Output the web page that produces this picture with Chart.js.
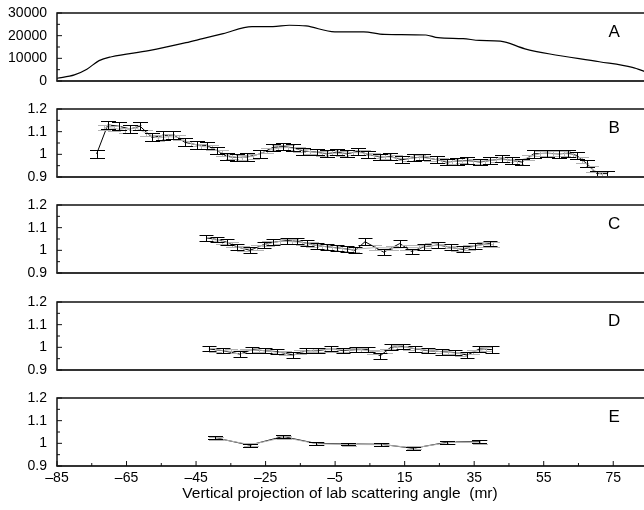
<!DOCTYPE html>
<html><head><meta charset="utf-8">
<script src="https://cdn.jsdelivr.net/npm/chart.js@4.4.0/dist/chart.umd.min.js"></script>
<style>
html,body{margin:0;padding:0;background:#fff;overflow:hidden;width:644px;height:510px;}
#wrap{position:relative;width:644px;height:510px;overflow:hidden;background:#fff;}
canvas{position:absolute;left:0;}
</style></head><body><div id="wrap">
<canvas id="cA"></canvas><canvas id="cB"></canvas><canvas id="cC"></canvas><canvas id="cD"></canvas><canvas id="cE"></canvas>
</div>
<script>
// ---------- data ----------
const xTickVals = [-85,-65,-45,-25,-5,15,35,55,75];
const xTickLabels = ['\u201385','\u201365','\u201345','\u201325','\u20135','15','35','55','75'];
const xMinorVals = [-75,-55,-35,-15,5,25,45,65];
const xTitle = 'Vertical projection of lab scattering angle  (mr)';

const aTickVals = [0,10000,20000,30000];
const aTickLabels = ['0','10000','20000','30000'];
const aMinorVals = [5000,15000,25000];
const rTickVals = [0.9,1.0,1.1,1.2];
const rTickLabels = ['0.9','1','1.1','1.2'];
const rMinorVals = [0.95,1.05,1.15];

const panelLetters = ['A','B','C','D','E'];

// Panel A: counts
const aX = [-85,-80,-76.4,-72.9,-69.3,-58.6,-47.9,-43.1,-37.2,-28.9,-22.9,-18.2,-13.4,-5.1,3.2,9.1,21.1,24.6,31.8,36.5,42.5,49.6,56.8,71.0,80.5,84.5];
const aY = [1200,2700,5200,9000,10700,13400,16900,18700,20900,24000,24000,24600,24300,21700,21700,20600,20300,19100,18700,17900,17600,14200,11900,8500,6000,4000];

// Panel B
const bKX = [-73.6,-70.4,-67.2,-64.0,-61.1,-57.7,-54.4,-51.5,-48.2,-44.8,-41.9,-39.0,-36.2,-33.3,-30.4,-26.6,-22.8,-19.9,-17.0,-14.1,-10.3,-7.4,-4.5,-1.6,1.7,4.6,8.0,10.8,14.2,17.6,20.4,24.3,27.1,30.0,32.9,36.7,39.6,43.0,45.8,48.7,52.1,55.9,59.3,62.1,64.5,67.4,70.3,73.2];
const bKY = [1.002,1.130,1.124,1.112,1.124,1.075,1.083,1.086,1.053,1.042,1.039,1.017,0.991,0.986,0.988,1.002,1.031,1.034,1.029,1.014,1.010,1.002,1.010,1.002,1.014,0.999,0.988,0.991,0.976,0.985,0.988,0.976,0.966,0.970,0.973,0.966,0.973,0.980,0.973,0.966,1.002,1.005,1.002,1.005,0.995,0.959,0.915,0.915];
const bKErr = [0.019,0.019,0.018,0.018,0.018,0.018,0.018,0.018,0.017,0.017,0.017,0.017,0.016,0.016,0.016,0.016,0.016,0.016,0.016,0.015,0.015,0.015,0.015,0.015,0.015,0.015,0.015,0.015,0.015,0.015,0.015,0.015,0.015,0.015,0.015,0.015,0.015,0.015,0.015,0.015,0.016,0.016,0.016,0.016,0.017,0.017,0.013,0.013];
const bGX = [-71.5,-68.5,-65.5,-62.5,-59.5,-56.0,-53.0,-50.0,-46.5,-43.5,-40.5,-37.5,-34.8,-31.8,-28.5,-24.7,-21.3,-18.5,-15.5,-12.2,-8.8,-6.0,-3.0,0.0,3.2,6.3,9.4,12.5,15.9,19.0,22.3,25.7,28.5,31.5,34.8,38.2,41.3,44.4,47.2,50.4,54.0,57.6,60.7,63.3,66.0,68.8,71.8];
const bGY = [1.118,1.115,1.105,1.118,1.095,1.072,1.078,1.075,1.048,1.035,1.030,1.005,0.990,0.985,0.992,1.015,1.028,1.030,1.022,1.012,1.005,1.006,1.004,1.008,1.006,0.994,0.990,0.984,0.980,0.986,0.982,0.972,0.968,0.971,0.970,0.970,0.976,0.976,0.970,0.985,1.004,1.003,1.004,1.000,0.975,0.935,0.910];
const bGErr = [0.012,0.012,0.012,0.012,0.012,0.012,0.012,0.012,0.012,0.012,0.012,0.012,0.011,0.011,0.011,0.011,0.011,0.011,0.011,0.011,0.011,0.011,0.011,0.011,0.011,0.011,0.011,0.011,0.011,0.011,0.011,0.011,0.011,0.011,0.011,0.011,0.011,0.011,0.011,0.011,0.011,0.011,0.011,0.011,0.012,0.012,0.012];

// Panel C
const cKX = [-42.1,-39.0,-36.2,-33.3,-29.5,-25.6,-22.8,-18.9,-16.0,-13.1,-10.3,-7.4,-4.5,-1.6,0.8,3.6,9.0,13.6,17.0,20.5,24.6,28.2,31.8,35.3,39.5];
const cKY = [1.055,1.048,1.036,1.016,1.000,1.025,1.036,1.043,1.040,1.031,1.021,1.016,1.011,1.006,1.000,1.038,0.992,1.030,0.995,1.015,1.024,1.013,1.004,1.021,1.030];
const cKErr = [0.013,0.013,0.013,0.013,0.013,0.013,0.013,0.013,0.013,0.013,0.013,0.013,0.013,0.013,0.013,0.016,0.014,0.015,0.013,0.013,0.013,0.013,0.013,0.013,0.013];
const cGX = [-40.5,-37.5,-34.8,-31.5,-27.5,-24.2,-20.8,-17.5,-14.5,-11.7,-8.8,-6.0,-3.0,0.0,6.5,11.5,15.5,19.0,22.5,26.5,30.0,33.5,37.5,40.5];
const cGY = [1.050,1.040,1.025,1.008,1.012,1.030,1.040,1.038,1.035,1.025,1.018,1.013,1.008,1.004,1.012,1.010,1.012,1.012,1.022,1.020,1.008,1.012,1.025,1.025];
const cGErr = [0.010,0.010,0.010,0.010,0.010,0.010,0.010,0.010,0.010,0.010,0.010,0.010,0.010,0.010,0.010,0.010,0.010,0.010,0.010,0.010,0.010,0.010,0.010,0.010];

// Panel D
const dKX = [-41.3,-37.2,-32.4,-28.9,-25.3,-21.7,-17.0,-13.4,-9.8,-6.3,-2.7,0.9,4.4,8.0,11.0,14.5,18.1,21.7,25.8,29.4,33.0,36.5,40.1];
const dKY = [0.993,0.985,0.970,0.990,0.985,0.981,0.966,0.985,0.985,0.995,0.985,0.990,0.990,0.963,1.000,1.004,0.993,0.985,0.981,0.977,0.966,0.993,0.990];
const dKErr = [0.011,0.011,0.013,0.013,0.012,0.012,0.013,0.012,0.012,0.012,0.012,0.012,0.012,0.014,0.013,0.012,0.012,0.012,0.013,0.013,0.013,0.013,0.014];
const dGX = [-39.5,-35.0,-30.5,-27.0,-23.5,-19.5,-15.0,-11.5,-8.0,-4.5,-1.0,2.5,6.0,9.5,12.8,16.3,20.0,23.8,27.5,31.2,34.8,38.3];
const dGY = [0.990,0.982,0.985,0.988,0.982,0.975,0.978,0.987,0.990,0.990,0.988,0.990,0.980,0.985,1.003,0.998,0.990,0.983,0.978,0.972,0.980,0.992];
const dGErr = [0.009,0.009,0.009,0.009,0.009,0.009,0.009,0.009,0.009,0.009,0.009,0.009,0.009,0.009,0.009,0.009,0.009,0.009,0.009,0.009,0.009,0.009];

// Panel E
const eKX = [-39.6,-29.6,-20.0,-10.6,-1.2,8.2,17.5,27.3,36.5];
const eKY = [1.025,0.992,1.030,1.000,0.997,0.996,0.978,1.005,1.008];
const eKErr = [0.007,0.006,0.006,0.006,0.006,0.006,0.006,0.006,0.006];
const eGX = [-39.2,-29.3,-19.7,-10.3,-0.9,8.5,17.8,27.6,36.8];
const eGY = [1.022,0.994,1.026,0.998,0.995,0.994,0.980,1.003,1.006];
const eGErr = [0.008,0.007,0.007,0.007,0.007,0.007,0.007,0.007,0.007];

// ---------- layout ----------
const FONT = "'Liberation Sans', Arial, Helvetica, sans-serif";
const panelTops = [12.5,108.5,205,301.5,398];
const PANEL_H = 68;
const PAD_TOP = 10;
const CANVAS_W = 660;

function pts(xs, ys){ return xs.map((x,i)=>({x:x, y:ys[i]})); }

const panelPlugin = {
  id:'panel',
  afterDatasetsDraw(chart){
    const ctx = chart.ctx, xs = chart.scales.x, ys = chart.scales.y;
    chart.data.datasets.forEach(ds=>{
      if(!ds.err) return;
      ctx.save();
      ctx.strokeStyle = ds.borderColor;
      ctx.lineWidth = 1;
      const hw = ds.capWidth/2;
      ds.data.forEach((p,i)=>{
        const px = Math.round(xs.getPixelForValue(p.x)) + 0.5;
        const yt = Math.round(ys.getPixelForValue(p.y + ds.err[i])) + 0.5;
        const yb = Math.round(ys.getPixelForValue(p.y - ds.err[i])) + 0.5;
        ctx.beginPath();
        ctx.moveTo(px, yt); ctx.lineTo(px, yb);
        ctx.moveTo(px-hw, yt); ctx.lineTo(px+hw, yt);
        ctx.moveTo(px-hw, yb); ctx.lineTo(px+hw, yb);
        ctx.stroke();
      });
      ctx.restore();
    });
  },
  afterDraw(chart, args, opts){
    const ctx = chart.ctx, a = chart.chartArea, xs = chart.scales.x, ys = chart.scales.y;
    ctx.save();
    // frame
    ctx.strokeStyle = '#111'; ctx.lineWidth = 1.5;
    ctx.beginPath();
    ctx.moveTo(a.left, a.bottom); ctx.lineTo(a.left, a.top); ctx.lineTo(a.right+20, a.top);
    ctx.stroke();
    ctx.strokeStyle = '#333'; ctx.lineWidth = 2;
    ctx.beginPath(); ctx.moveTo(a.left-0.75, a.bottom); ctx.lineTo(a.right+20, a.bottom); ctx.stroke();
    // y ticks (inside)
    ctx.strokeStyle = '#111'; ctx.lineWidth = 1;
    opts.yMajor.forEach(v=>{ const y = ys.getPixelForValue(v); ctx.beginPath(); ctx.moveTo(a.left, y); ctx.lineTo(a.left+5, y); ctx.stroke(); });
    opts.yMinor.forEach(v=>{ const y = ys.getPixelForValue(v); ctx.beginPath(); ctx.moveTo(a.left, y); ctx.lineTo(a.left+3, y); ctx.stroke(); });
    if(opts.xAxis){
      xTickVals.forEach(v=>{ const x = xs.getPixelForValue(v); ctx.beginPath(); ctx.moveTo(x, a.bottom); ctx.lineTo(x, a.bottom-5); ctx.stroke(); });
      xMinorVals.forEach(v=>{ const x = xs.getPixelForValue(v); ctx.beginPath(); ctx.moveTo(x, a.bottom); ctx.lineTo(x, a.bottom-3); ctx.stroke(); });
      ctx.fillStyle = '#000';
      ctx.font = '15.5px ' + FONT;
      ctx.textAlign = 'center'; ctx.textBaseline = 'middle';
      ctx.fillText(xTitle, 340, 494 - (chart.canvas.offsetTop));
    }
    // panel letter
    ctx.fillStyle = '#000';
    ctx.font = '17px ' + FONT;
    ctx.textAlign = 'center'; ctx.textBaseline = 'middle';
    ctx.fillText(opts.letter, xs.getPixelForValue(75) + 1, a.top + 19);
    ctx.restore();
  }
};

function noPad(s){ s.paddingTop = 0; s.paddingBottom = 0; s.paddingLeft = 0; s.paddingRight = 0; }

function makePanel(idx, datasets, yMin, yMax, tickVals, tickLabels, minorVals){
  const isLast = idx === 4;
  const el = document.getElementById('c' + panelLetters[idx]);
  const top = panelTops[idx] - PAD_TOP;
  const height = isLast ? (510 - top) : (PANEL_H + 2*PAD_TOP);
  el.width = CANVAS_W; el.height = height;
  el.style.width = CANVAS_W + 'px'; el.style.height = height + 'px';
  el.style.top = top + 'px';
  const xAxisH = isLast ? (height - PAD_TOP - PANEL_H) : 0;
  return new Chart(el, {
    type:'line',
    data:{datasets: datasets},
    options:{
      responsive:false, animation:false, devicePixelRatio:1,
      layout:{padding:{left:0, right:12, top:PAD_TOP, bottom: isLast ? 0 : PAD_TOP}},
      plugins:{legend:{display:false}, tooltip:{enabled:false},
        panel:{letter: panelLetters[idx], yMajor: tickVals, yMinor: minorVals, xAxis: isLast}},
      elements:{point:{radius:0, hoverRadius:0}},
      scales:{
        x:{type:'linear', min:-85, max:85, display: isLast,
          grid:{display:false, drawTicks:false}, border:{display:false},
          afterBuildTicks: s=>{ s.ticks = xTickVals.map(v=>({value:v})); },
          afterFit: s=>{ s.height = xAxisH; noPad(s); },
          ticks:{callback:(v,i)=>xTickLabels[i], font:{family:FONT, size:14}, color:'#000', padding:4, maxRotation:0, autoSkip:false}},
        y:{type:'linear', min:yMin, max:yMax,
          grid:{display:false, drawTicks:false}, border:{display:false},
          afterBuildTicks: s=>{ s.ticks = tickVals.map(v=>({value:v})); },
          afterFit: s=>{ s.width = 57; noPad(s); },
          ticks:{callback:(v,i)=>tickLabels[i], font:{family:FONT, size:14}, color:'#000', padding:10, autoSkip:false}}
      }
    },
    plugins:[panelPlugin]
  });
}

function errSets(kx, ky, kerr, gx, gy, gerr, capK, capG){
  return [
    {data: pts(gx, gy), err: gerr, borderColor:'#b4b4b4', borderWidth:1, capWidth:capG, showLine:true, tension:0},
    {data: pts(kx, ky), err: kerr, borderColor:'#000', borderWidth:1, capWidth:capK, showLine:true, tension:0}
  ];
}

makePanel(0, [{data: pts(aX, aY), borderColor:'#000', borderWidth:1.2, cubicInterpolationMode:'monotone'}],
  0, 30000, aTickVals, aTickLabels, aMinorVals);
makePanel(1, errSets(bKX,bKY,bKErr,bGX,bGY,bGErr,15,13), 0.9, 1.2, rTickVals, rTickLabels, rMinorVals);
makePanel(2, errSets(cKX,cKY,cKErr,cGX,cGY,cGErr,14,13), 0.9, 1.2, rTickVals, rTickLabels, rMinorVals);
makePanel(3, errSets(dKX,dKY,dKErr,dGX,dGY,dGErr,14,13), 0.9, 1.2, rTickVals, rTickLabels, rMinorVals);
makePanel(4, errSets(eKX,eKY,eKErr,eGX,eGY,eGErr,15,15), 0.9, 1.2, rTickVals, rTickLabels, rMinorVals);
</script>
</body></html>
